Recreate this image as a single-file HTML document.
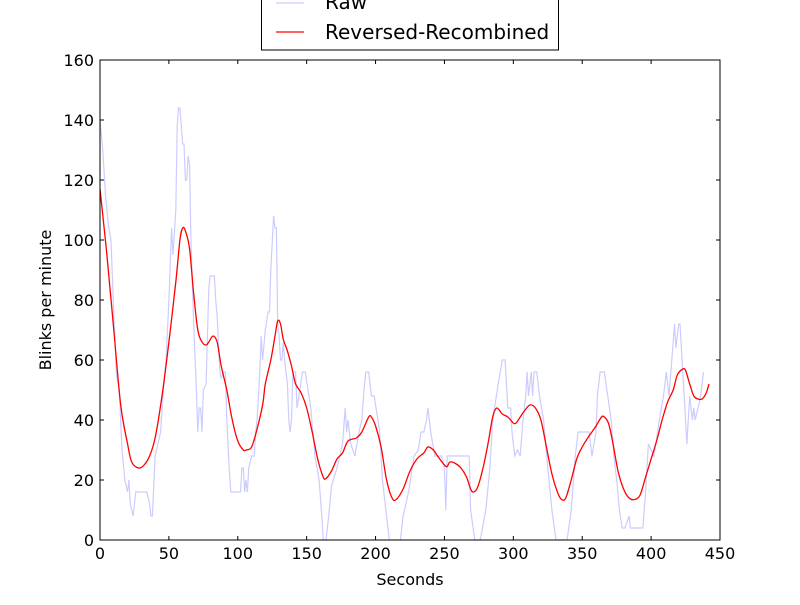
<!DOCTYPE html>
<html><head><meta charset="utf-8"><style>
body{margin:0;background:#fff;}
svg text{font-family:"DejaVu Sans","Liberation Sans",sans-serif;}
</style></head><body>
<svg id="chart" width="800" height="600" xmlns="http://www.w3.org/2000/svg"></svg>
<script>
const xTicks=[0,50,100,150,200,250,300,350,400,450];
const yTicks=[0,20,40,60,80,100,120,140,160];
const rawX=[0,2,4,6,8,10,12,14,16,18,20,21,22,24,26,34,36,37,38,40,42,44,46,48,50,52,53,55,56,57,58,59,60,61,62,63,64,65,66,68,70,71,72,73,74,75,77,79,80,83,84,85,87,88,90,91,92,94,95,102,103,104,105,106,107,108,110,112,113,114,116,117,118,120,122,123,124,126,127,128,129,130,131,132,133,134,136,137,138,139,140,142,143,145,147,149,151,153,156,159,161,162,164,166,168,172,176,178,179,180,182,185,188,190,192,193,195,197,199,203,205,208,210,212,218,220,224,228,231,233,235,237,238,240,243,248,250,251,252,256,268,269,272,276,280,283,285,289,292,294,296,298,299,301,303,305,307,309,310,311,313,314,315,317,319,322,325,328,331,339,342,345,347,355,357,360,361,363,366,371,373,375,377,379,381,384,385,386,387,394,396,398,402,406,409,411,413,415,417,418,420,421,422,424,426,428,430,431,432,434,436,438,440];
const rawY=[140,130,115,105,100,75,55,50,30,20,16,20,12,8,16,16,12,8,8,28,32,36,50,60,80,104,95,110,138,144,144,138,132,132,120,120,128,125,100,72,50,36,44,44,36,50,52,84,88,88,80,75,56,54,56,56,40,22,16,16,24,24,16,20,16,24,28,28,36,40,56,68,60,70,76,76,90,108,104,104,72,68,60,60,66,60,52,40,36,40,56,56,44,50,56,56,50,44,28,20,8,0,0,8,18,24,32,44,36,40,32,28,36,40,52,56,56,48,48,36,20,8,0,0,0,8,16,28,30,36,36,40,44,36,28,28,24,10,28,28,28,10,0,0,10,24,40,52,60,60,44,44,36,28,30,28,40,48,56,48,56,48,56,56,48,40,24,10,0,0,10,28,36,36,28,36,48,56,56,40,28,20,10,4,4,8,4,4,4,4,16,32,28,40,48,56,48,60,72,64,72,72,64,48,32,48,40,44,40,44,48,56];
const smX=[0,5,10,15,20,23,28,32,36,40,45,50,55,58,60,62,65,68,71,74,77,79,82,85,88,92,96,100,104,106,110,114,118,120,124,127,129,131,133,136,139,142,146,150,154,158,162,164,168,172,176,180,186,190,195,197,200,204,208,212,215,220,225,230,235,238,242,245,250,252,254,258,262,266,269,271,274,278,282,285,288,292,296,300,302,305,308,312,316,320,324,328,332,335,338,342,346,350,354,357,360,364,366,369,372,376,380,384,388,392,396,400,404,408,412,416,419,423,425,428,431,434,437,440,442];
const smY=[117,95,70,45,32,26,24,25,28,34,48,66,86,100,104,103,97,82,70,66,65,66,68,66,58,50,40,33,30,30,31,37,45,52,60,68,73,72,67,63,58,52,49,44,36,27,21,20.5,23,27,29,33,34,36,41,41,38,31,20,14,13.5,17,23,27,29,31,30,28,25,24.5,26,25.5,24,21,17,16,17.5,24,33,41,44,42,41,39,39,41,43,45,44,40,31,22,16,13.5,14,20,27,31,34,36,38,41,41,39,33,23,17,14,13.5,15,21,27,33,40,46,50,55,57,56.5,52,48,47,47,49,52];

const NS="http://www.w3.org/2000/svg";
const svg=document.getElementById('chart');
const L=100,R=720,T=60,B=540;
const sx=v=>L+(v-0)/450*(R-L);
const sy=v=>B-(v-0)/160*(B-T);
function el(tag,attrs,parent){const e=document.createElementNS(NS,tag);for(const k in attrs)e.setAttribute(k,attrs[k]);(parent||svg).appendChild(e);return e;}

const clip=el('clipPath',{id:'pc'});el('rect',{x:L,y:T,width:R-L,height:B-T},clip);

let d=rawX.map((x,i)=>(i?'L':'M')+sx(x).toFixed(1)+','+sy(rawY[i]).toFixed(1)).join('');
const raw=el('path',{d:d,fill:'none',stroke:'#ccccff','stroke-width':1.2,'clip-path':'url(#pc)'});



const P=smX.map((x,i)=>[sx(x),sy(smY[i])]);
d='M'+P[0][0].toFixed(1)+','+P[0][1].toFixed(1);
for(let i=0;i<P.length-1;i++){
  const p0=P[Math.max(i-1,0)],p1=P[i],p2=P[i+1],p3=P[Math.min(i+2,P.length-1)];
  const c1=[p1[0]+(p2[0]-p0[0])/6,p1[1]+(p2[1]-p0[1])/6];
  const c2=[p2[0]-(p3[0]-p1[0])/6,p2[1]-(p3[1]-p1[1])/6];
  d+='C'+c1[0].toFixed(1)+','+c1[1].toFixed(1)+' '+c2[0].toFixed(1)+','+c2[1].toFixed(1)+' '+p2[0].toFixed(1)+','+p2[1].toFixed(1);
}
const sm=el('path',{d:d,fill:'none',stroke:'#ff0000','stroke-width':1.3,'stroke-linejoin':'round','clip-path':'url(#pc)'});



const frame=el('rect',{x:L,y:T,width:R-L,height:B-T,fill:'none',stroke:'#000','stroke-width':1});



xTicks.forEach(v=>{
  const x=sx(v);
  el('line',{x1:x,y1:B,x2:x,y2:B-4,stroke:'#000'});
  el('line',{x1:x,y1:T,x2:x,y2:T+4,stroke:'#000'});
  const t=el('text',{x:x,y:B+19,'text-anchor':'middle','font-size':16});
  t.textContent=v;
  
  
});
yTicks.forEach(v=>{
  const y=sy(v);
  el('line',{x1:L,y1:y,x2:L+4,y2:y,stroke:'#000'});
  el('line',{x1:R,y1:y,x2:R-4,y2:y,stroke:'#000'});
  const t=el('text',{x:L-6,y:y+6,'text-anchor':'end','font-size':16});
  t.textContent=v;
  
  
});
const xt=el('text',{x:410,y:585,'text-anchor':'middle','font-size':16});
xt.textContent='Seconds';


const yt=el('text',{x:0,y:0,'text-anchor':'middle','font-size':16,transform:'translate(51,300) rotate(-90)'});
yt.textContent='Blinks per minute';



const lg=el('g',{});


el('rect',{x:261.5,y:-20,width:297,height:70,fill:'#fff',stroke:'#000'},lg);
el('line',{x1:276,y1:3,x2:304,y2:3,stroke:'#ccccff','stroke-width':1.2},lg);
const t1=el('text',{x:325,y:9,'font-size':20},lg);t1.textContent='Raw';


el('line',{x1:276,y1:32,x2:304,y2:32,stroke:'#ff0000','stroke-width':1.3},lg);
const t2=el('text',{x:325,y:39,'font-size':20},lg);t2.textContent='Reversed-Recombined';


</script>
</body></html>
